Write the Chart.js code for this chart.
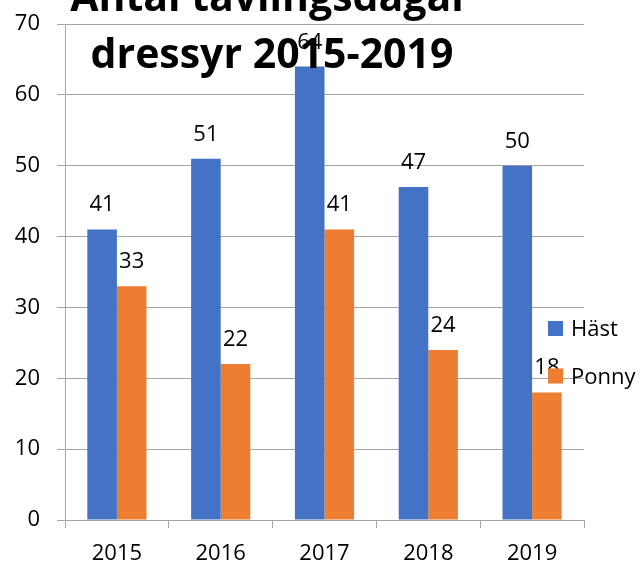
<!DOCTYPE html>
<html>
<head>
<meta charset="utf-8">
<script src="https://cdn.jsdelivr.net/npm/chart.js@4.4.1/dist/chart.umd.min.js"></script>
<style>
html,body{margin:0;padding:0;background:#fff;}
#wrap{width:640px;height:562px;position:relative;}
</style>
</head>
<body>
<div id="wrap"><canvas id="c" width="640" height="562"></canvas></div>
<script>
const categories = ['2015', '2016', '2017', '2018', '2019'];
const hastValues = [41, 51, 64, 47, 50];
const ponnyValues = [33, 22, 41, 24, 18];
const seriesNames = ['Häst', 'Ponny'];
const titleLines = ['Antal tävlingsdagar', 'dressyr 2015-2019'];
const yTicksMax = 70;
const yStep = 10;

const FONT = "'Open Sans', 'Liberation Sans', sans-serif";

const labelPlugin = {
  id: 'barLabels',
  afterDatasetsDraw(chart) {
    const ctx = chart.ctx;
    ctx.save();
    ctx.font = "22px " + FONT;
    ctx.fillStyle = '#000';
    ctx.textAlign = 'center';
    ctx.textBaseline = 'alphabetic';
    chart.data.datasets.forEach((ds, i) => {
      const meta = chart.getDatasetMeta(i);
      meta.data.forEach((el, j) => {
        ctx.fillText(String(ds.data[j]), el.x, el.y - 18);
      });
    });
    ctx.restore();
  }
};

const titlePlugin = {
  id: 'titleOverlay',
  afterDraw(chart) {
    const ctx = chart.ctx;
    ctx.save();
    ctx.fillStyle = '#000';
    ctx.textAlign = 'center';
    ctx.textBaseline = 'alphabetic';
    ctx.font = "bold 100px " + FONT;
    const w = ctx.measureText(titleLines[1]).width;
    const size = 100 * 363 / w;
    ctx.font = "bold " + size.toFixed(1) + "px " + FONT;
    ctx.fillText(titleLines[0], 270, 11);
    ctx.fillText(titleLines[1], 272, 68);
    ctx.restore();
  }
};

const legendPlugin = {
  id: 'legendOverlay',
  afterDraw(chart) {
    const ctx = chart.ctx;
    ctx.save();
    ctx.font = "22px " + FONT;
    ctx.textAlign = 'left';
    ctx.textBaseline = 'alphabetic';
    chart.data.datasets.forEach((ds, i) => {
      const y = 321 + i * 47.5;
      ctx.fillStyle = ds.backgroundColor;
      ctx.fillRect(548, y, 15, 15);
      ctx.fillStyle = '#000';
      ctx.fillText(ds.label, 571, y + 15);
    });
    ctx.restore();
  }
};

new Chart(document.getElementById('c'), {
  type: 'bar',
  data: {
    labels: categories,
    datasets: [
      { label: seriesNames[0], data: hastValues, backgroundColor: '#4472C4', categoryPercentage: 0.57, barPercentage: 1.0 },
      { label: seriesNames[1], data: ponnyValues, backgroundColor: '#ED7D31', categoryPercentage: 0.57, barPercentage: 1.0 }
    ]
  },
  options: {
    responsive: false,
    animation: false,
    devicePixelRatio: 1,
    layout: { padding: { left: 0, right: 56, top: 24, bottom: 0 } },
    plugins: {
      legend: { display: false },
      title: { display: false },
      tooltip: { enabled: false }
    },
    scales: {
      x: {
        offset: true,
        grid: { display: true, drawOnChartArea: false, drawTicks: true, tickLength: 8, color: '#a6a6a6', offset: true },
        border: { display: true, color: '#a6a6a6', width: 1 },
        ticks: { color: '#000', font: { family: FONT, size: 22 }, padding: 13, maxRotation: 0 },
        afterFit(axis) { axis.height = 42; }
      },
      y: {
        min: 0,
        max: yTicksMax,
        ticks: { stepSize: yStep, color: '#000', font: { family: FONT, size: 22 }, padding: 17 },
        grid: { color: '#a6a6a6', tickLength: 8, lineWidth: 1 },
        border: { display: true, color: '#a6a6a6', width: 1 },
        afterFit(axis) { axis.width = 65; axis.paddingTop = 12; axis.paddingBottom = 12; }
      }
    }
  },
  plugins: [labelPlugin, titlePlugin, legendPlugin]
});
</script>
</body>
</html>
